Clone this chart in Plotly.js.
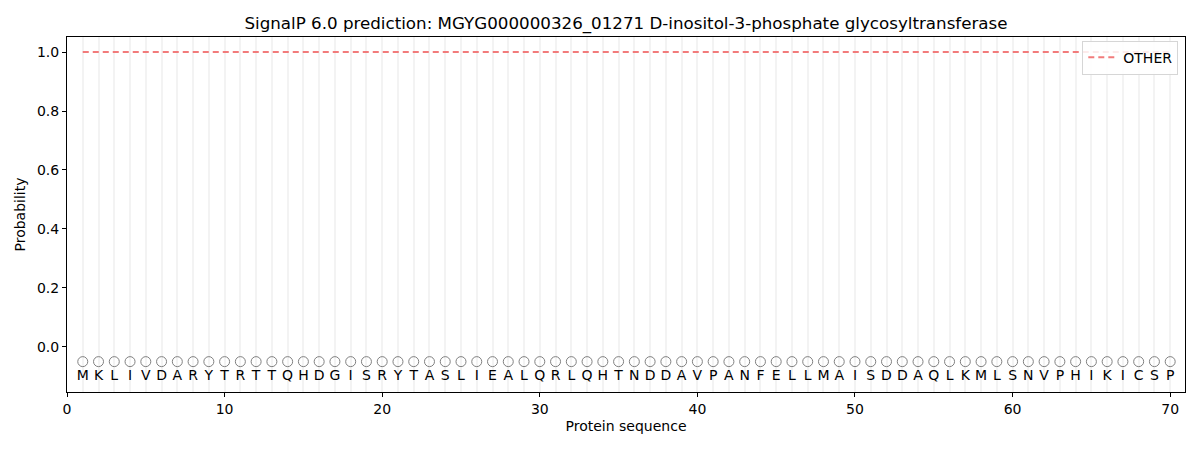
<!DOCTYPE html>
<html>
<head>
<meta charset="utf-8">
<script src="https://cdn.plot.ly/plotly-3.0.1.min.js"></script>
<style>html,body{margin:0;padding:0;background:#fff;}#chart{width:1200px;height:450px;}</style>
</head>
<body>
<div id="chart"></div>
<script>
const sequence = ["M","K","L","I","V","D","A","R","Y","T","R","T","T","Q","H","D","G","I","S","R","Y","T","A","S","L","I","E","A","L","Q","R","L","Q","H","T","N","D","D","A","V","P","A","N","F","E","L","L","M","A","I","S","D","D","A","Q","L","K","M","L","S","N","V","P","H","I","K","I","C","S","P"];
const positions = sequence.map((_, i) => i + 1);
const otherProb = positions.map(() => 1.0);
const predictedLabels = positions.map(() => "O");
const markerLevel = -0.05;
const letterLevel = -0.1;
const xTicks = [0, 10, 20, 30, 40, 50, 60, 70];
const yTicks = [0.0, 0.2, 0.4, 0.6, 0.8, 1.0];

const font = "DejaVu Sans, sans-serif";

const traces = [
  {
    x: positions, y: otherProb, type: "scatter", mode: "lines", name: "OTHER",
    line: {color: "rgba(240,100,100,0.85)", width: 2, dash: "6px,4px"},
    hoverinfo: "skip"
  },
  {
    x: positions, y: positions.map(() => markerLevel), type: "scatter", mode: "markers",
    marker: {symbol: "circle-open", size: 10, color: "#808080", line: {width: 1}},
    text: predictedLabels, showlegend: false, hoverinfo: "skip"
  },
  {
    x: positions, y: positions.map(() => letterLevel), type: "scatter", mode: "text",
    text: sequence, textfont: {family: font, size: 14, color: "#000"},
    showlegend: false, hoverinfo: "skip"
  }
];

const layout = {
  width: 1200, height: 450,
  margin: {l: 67, r: 15, t: 37, b: 58},
  paper_bgcolor: "#fff", plot_bgcolor: "#fff",
  font: {family: font, size: 14, color: "#000"},
  title: {text: "SignalP 6.0 prediction: MGYG000000326_01271 D-inositol-3-phosphate glycosyltransferase",
          font: {family: font, size: 16.7, color: "#000"}, xref: "paper", x: 0.5, xanchor: "center",
          yref: "container", y: 0.948, yanchor: "middle"},
  xaxis: {
    range: [0, 70.94], tickvals: xTicks, ticktext: xTicks.map(String),
    ticks: "outside", ticklen: 4, tickcolor: "#000",
    showline: true, linecolor: "#000", linewidth: 1, mirror: true,
    showgrid: true, gridcolor: "#f3f3f3", gridwidth: 2,
    minor: {dtick: 1, tick0: 0, showgrid: true, gridcolor: "#f3f3f3", gridwidth: 2},
    zeroline: false,
    title: {text: "Protein sequence", font: {family: font, size: 14}, standoff: 5}
  },
  yaxis: {
    range: [-0.153, 1.051], tickvals: yTicks, ticktext: yTicks.map(v => v.toFixed(1)),
    ticks: "outside", ticklen: 4, tickcolor: "#000",
    showline: true, linecolor: "#000", linewidth: 1, mirror: true,
    showgrid: false, zeroline: false,
    title: {text: "Probability", font: {family: font, size: 14}, standoff: 8}
  },
  legend: {
    x: 0.994, y: 0.99, xanchor: "right", yanchor: "top",
    bgcolor: "rgba(255,255,255,0.85)", bordercolor: "#d6d6d6", borderwidth: 1,
    font: {family: font, size: 14}
  },
  showlegend: true
};

Plotly.newPlot("chart", traces, layout, {staticPlot: true, displayModeBar: false});
</script>
</body>
</html>
